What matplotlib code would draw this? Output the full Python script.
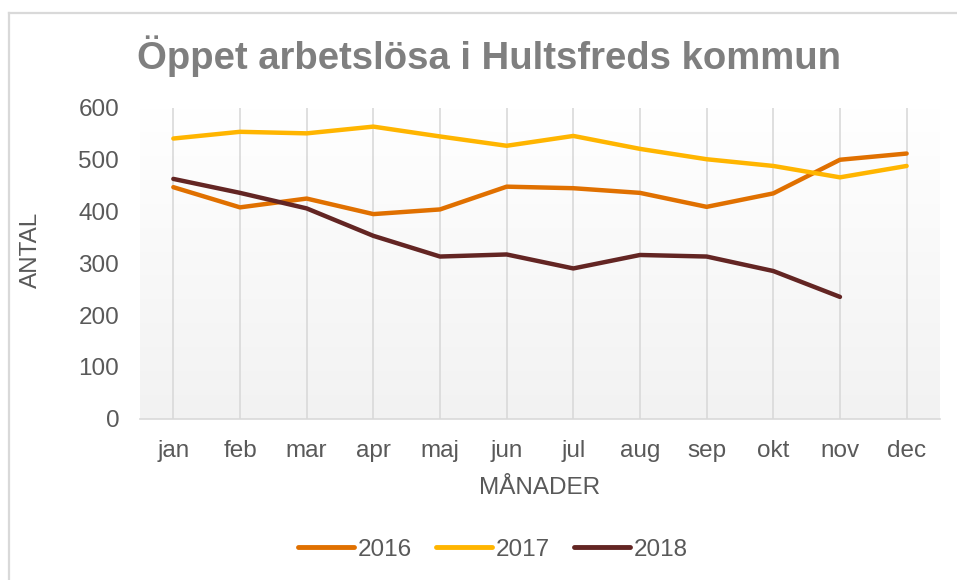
import numpy as np
import matplotlib.pyplot as plt
from matplotlib.colors import LinearSegmentedColormap
from matplotlib.lines import Line2D

# data
months = ['jan', 'feb', 'mar', 'apr', 'maj', 'jun', 'jul', 'aug', 'sep', 'okt', 'nov', 'dec']
v2016 = [447, 408, 425, 395, 404, 448, 445, 436, 409, 435, 500, 512]
v2017 = [541, 554, 551, 564, 545, 527, 546, 521, 501, 488, 466, 488]
v2018 = [463, 436, 406, 353, 313, 317, 290, 316, 313, 285, 235]
yticks = [0, 100, 200, 300, 400, 500, 600]

plt.rcParams['font.family'] = ['Liberation Sans', 'DejaVu Sans']
grey = '#595959'

fig = plt.figure(figsize=(9.57, 5.8), dpi=100)
ax = fig.add_axes([0.1463, 0.2784, 0.8359, 0.5354])

# chart area border (only top and left are visible in the crop)
fig.lines.append(Line2D([0.0094, 1.0], [0.9776, 0.9776], transform=fig.transFigure,
                        color='#d9d9d9', lw=1.6))
fig.lines.append(Line2D([0.0094, 0.0094], [0.0, 0.9776], transform=fig.transFigure,
                        color='#d9d9d9', lw=1.6))

# gradient background in the plot area
grad = np.linspace(0, 1, 256).reshape(-1, 1)
cmap = LinearSegmentedColormap.from_list('g', ['#f2f2f2', '#ffffff'])
ax.imshow(grad, extent=[0, 1, 0, 1], transform=ax.transAxes, aspect='auto',
          cmap=cmap, origin='lower', zorder=0)

x = np.arange(len(months))
ax.plot(x, v2016, color='#E07000', lw=3.2, label='2016', solid_capstyle='round', zorder=3)
ax.plot(x, v2017, color='#FFB500', lw=3.2, label='2017', solid_capstyle='round', zorder=3)
ax.plot(x[:len(v2018)], v2018, color='#632523', lw=3.2, label='2018', solid_capstyle='round', zorder=3)

ax.set_xlim(-0.5, len(months) - 0.5)
ax.set_ylim(0, 600)
ax.set_yticks(yticks)
ax.set_xticks(x)
ax.set_xticklabels(months)
ax.tick_params(axis='both', length=0, labelsize=17.5, labelcolor=grey)
ax.tick_params(axis='x', pad=15.5)
ax.tick_params(axis='y', pad=15)
ax.grid(axis='x', color='#d9d9d9', lw=1.2)
ax.set_axisbelow(True)
for s in ['top', 'right', 'left']:
    ax.spines[s].set_visible(False)
ax.spines['bottom'].set_color('#d9d9d9')
ax.spines['bottom'].set_linewidth(1.2)

ax.set_xlabel('MÅNADER', fontsize=17.5, color=grey)
ax.set_ylabel('ANTAL', fontsize=17.5, color=grey)
ax.xaxis.set_label_coords(0.5, -0.188)
ax.yaxis.set_label_coords(-0.1225, 0.543)

fig.text(0.5105, 0.903, 'Öppet arbetslösa i Hultsfreds kommun', ha='center', va='center',
         fontsize=27.5, fontweight='bold', color='#7f7f7f')

leg = fig.legend(loc='center', bbox_to_anchor=(0.515, 0.052), ncol=3, frameon=False,
                 fontsize=17.5, handlelength=2.3, handletextpad=0.15, columnspacing=1.0)
for t in leg.get_texts():
    t.set_color(grey)
for h in leg.get_lines():
    h.set_linewidth(3.5)

fig.savefig('out.png', dpi=100)
